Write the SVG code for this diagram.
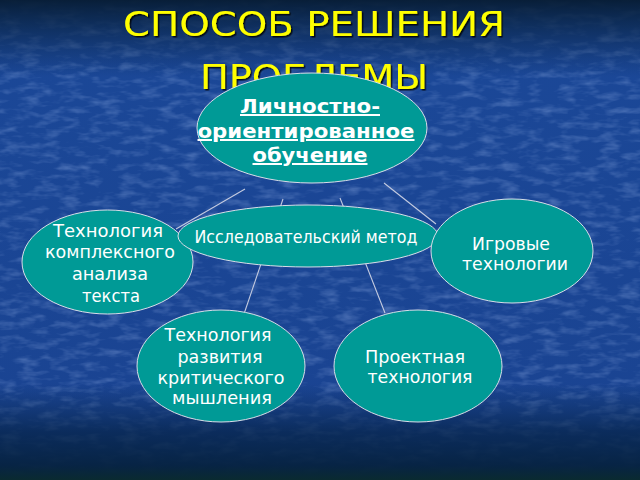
<svg xmlns="http://www.w3.org/2000/svg" width="640" height="480" viewBox="0 0 640 480">
  <defs>
    <linearGradient id="bg" x1="0" y1="0" x2="0" y2="1">
      <stop offset="0" stop-color="#1b4898"/>
      <stop offset="1" stop-color="#1a4391"/>
    </linearGradient>
    <linearGradient id="shade" x1="0" y1="0" x2="0" y2="1">
      <stop offset="0" stop-color="#071c33" stop-opacity="0.95"/>
      <stop offset="0.05" stop-color="#0a2547" stop-opacity="0.75"/>
      <stop offset="0.16" stop-color="#0c2a55" stop-opacity="0"/>
      <stop offset="0.8" stop-color="#0a2a55" stop-opacity="0"/>
      <stop offset="0.9" stop-color="#06244a" stop-opacity="0.75"/>
      <stop offset="0.97" stop-color="#062240" stop-opacity="0.95"/>
      <stop offset="1" stop-color="#0a2a30" stop-opacity="1"/>
    </linearGradient>
    <filter id="tex" x="0" y="0" width="100%" height="100%">
      <feTurbulence type="fractalNoise" baseFrequency="0.05 0.14" numOctaves="3" seed="7"/>
      <feColorMatrix type="matrix" values="0 0 0 0 0.5  0 0 0 0 0.65  0 0 0 0 1  0 0 0 1.5 -0.68"/>
    </filter>
    <filter id="tshadow" x="-10%" y="-20%" width="120%" height="140%">
      <feDropShadow dx="1.5" dy="1.5" stdDeviation="0.6" flood-color="#000" flood-opacity="0.8"/>
    </filter>
    <style>
      .node ellipse { fill: #009a96; stroke: #d8dde8; stroke-width: 1; }
      .lbl { font-family: "DejaVu Sans", Verdana, sans-serif; font-size: 17px; fill: #ffffff; text-anchor: middle; }
      .main { font-family: "DejaVu Sans", Verdana, sans-serif; font-size: 20px; font-weight: bold; fill: #ffffff; text-anchor: middle; text-decoration: underline; }
      .title { font-family: "DejaVu Sans", Verdana, sans-serif; font-size: 34px; fill: #ffff00; text-anchor: middle; }
      .conn line { stroke: #c4cbe0; stroke-width: 1.1; }
    </style>
  </defs>

  <rect x="0" y="0" width="640" height="480" fill="url(#bg)"/>
  <rect x="0" y="0" width="640" height="480" filter="url(#tex)" opacity="0.4"/>
  <rect x="0" y="0" width="640" height="480" fill="url(#shade)"/>

  <g id="title" filter="url(#tshadow)">
    <text class="title" x="314" y="36" textLength="382" lengthAdjust="spacingAndGlyphs">СПОСОБ РЕШЕНИЯ</text>
    <text class="title" x="314" y="89" textLength="228" lengthAdjust="spacingAndGlyphs">ПРОБЛЕМЫ</text>
  </g>

  <g id="connectors" class="conn">
    <line x1="245" y1="189" x2="176" y2="229"/>
    <line x1="384" y1="183" x2="436" y2="224"/>
    <line x1="283" y1="199" x2="244" y2="314"/>
    <line x1="340" y1="198" x2="385" y2="313"/>
  </g>

  <g id="node-main" class="node">
    <ellipse cx="312" cy="128" rx="115" ry="55"/>
    <text class="main" x="310" y="113" textLength="140" lengthAdjust="spacingAndGlyphs">Личностно-</text>
    <text class="main" x="306" y="138" textLength="217" lengthAdjust="spacingAndGlyphs">ориентированное</text>
    <text class="main" x="310" y="162" textLength="115" lengthAdjust="spacingAndGlyphs">обучение</text>
  </g>

  <g id="node-text-analysis" class="node">
    <ellipse cx="107.5" cy="262" rx="85.5" ry="52"/>
    <text class="lbl" x="108" y="237" textLength="110" lengthAdjust="spacingAndGlyphs">Технология</text>
    <text class="lbl" x="110" y="258" textLength="130" lengthAdjust="spacingAndGlyphs">комплексного</text>
    <text class="lbl" x="110" y="280" textLength="76" lengthAdjust="spacingAndGlyphs">анализа</text>
    <text class="lbl" x="111" y="302" textLength="58" lengthAdjust="spacingAndGlyphs">текста</text>
  </g>

  <g id="node-research" class="node">
    <ellipse cx="308" cy="236" rx="130" ry="31"/>
    <text class="lbl" x="306" y="243" textLength="223" lengthAdjust="spacingAndGlyphs">Исследовательский метод</text>
  </g>

  <g id="node-games" class="node">
    <ellipse cx="512" cy="251" rx="81" ry="52"/>
    <text class="lbl" x="511" y="250" textLength="78" lengthAdjust="spacingAndGlyphs">Игровые</text>
    <text class="lbl" x="515" y="270" textLength="106" lengthAdjust="spacingAndGlyphs">технологии</text>
  </g>

  <g id="node-critical" class="node">
    <ellipse cx="221" cy="366" rx="84" ry="56"/>
    <text class="lbl" x="218" y="341" textLength="107" lengthAdjust="spacingAndGlyphs">Технология</text>
    <text class="lbl" x="220" y="363" textLength="85" lengthAdjust="spacingAndGlyphs">развития</text>
    <text class="lbl" x="221" y="384" textLength="127" lengthAdjust="spacingAndGlyphs">критического</text>
    <text class="lbl" x="222" y="404" textLength="100" lengthAdjust="spacingAndGlyphs">мышления</text>
  </g>

  <g id="node-project" class="node">
    <ellipse cx="418" cy="366" rx="84" ry="56"/>
    <text class="lbl" x="415" y="363" textLength="100" lengthAdjust="spacingAndGlyphs">Проектная</text>
    <text class="lbl" x="420" y="383" textLength="105" lengthAdjust="spacingAndGlyphs">технология</text>
  </g>
</svg>
